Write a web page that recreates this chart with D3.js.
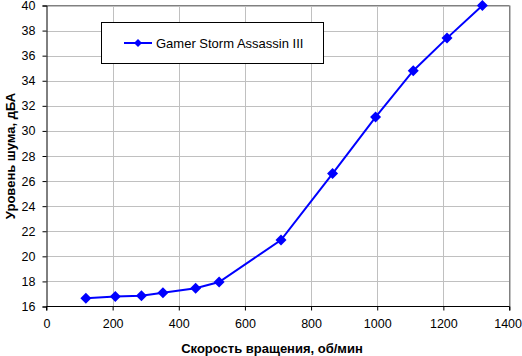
<!DOCTYPE html>
<html><head><meta charset="utf-8">
<script src="https://cdn.jsdelivr.net/npm/d3@7"></script>
<style>
html,body{margin:0;padding:0;background:#fff;}
svg{display:block;font-family:"Liberation Sans",Arial,sans-serif;}
</style></head>
<body>
<svg id="c" width="522" height="356"></svg>
<script>
const seriesName = "Gamer Storm Assassin III";
const rpm = [119, 208, 287, 352, 451, 522, 709, 865, 995, 1109, 1211, 1318];
const noise = [16.65, 16.8, 16.85, 17.1, 17.45, 17.95, 21.3, 26.6, 31.1, 34.8, 37.4, 40.0];
const xTicks = [0, 200, 400, 600, 800, 1000, 1200, 1400];
const yTicks = [16, 18, 20, 22, 24, 26, 28, 30, 32, 34, 36, 38, 40];
const xTitle = "Скорость вращения, об/мин";
const yTitle = "Уровень шума, дБА";

const svg = d3.select("#c");
const x = d3.scaleLinear().domain([0, 1400]).range([46.5, 509.5]);
const y = d3.scaleLinear().domain([16, 40]).range([306.5, 5.5]);
const color = "#0000ff";

// grid
svg.append("g").selectAll("line").data(xTicks.slice(1)).join("line")
  .attr("x1", d => Math.round(x(d)) + 0.5).attr("x2", d => Math.round(x(d)) + 0.5)
  .attr("y1", y(40)).attr("y2", y(16)).attr("stroke", "#c0c0c0").attr("stroke-width", 1);
svg.append("g").selectAll("line").data(yTicks.slice(1)).join("line")
  .attr("y1", d => Math.round(y(d)) + 0.5).attr("y2", d => Math.round(y(d)) + 0.5)
  .attr("x1", x(0)).attr("x2", x(1400)).attr("stroke", "#c0c0c0").attr("stroke-width", 1);
// top/right border
svg.append("path").attr("d", `M${x(0)},${y(40)}H${x(1400)}V${y(16)}`)
  .attr("fill", "none").attr("stroke", "#808080").attr("stroke-width", 1);

// axes
const xAxis = d3.axisBottom(x).tickValues(xTicks).tickSize(4).tickPadding(9).tickFormat(d3.format("d"));
const yAxis = d3.axisLeft(y).tickValues(yTicks).tickSize(4).tickPadding(7).tickFormat(d3.format("d"));
const gx = svg.append("g").attr("transform", `translate(0,${y(16)})`).call(xAxis);
const gy = svg.append("g").attr("transform", `translate(${x(0)},0)`).call(yAxis);
[gx, gy].forEach(g => {
  g.select(".domain").attr("stroke", "#000").attr("stroke-width", 1);
  g.selectAll(".tick line").attr("stroke", "#000");
  g.selectAll(".tick text").attr("font-size", 12.5).attr("fill", "#000")
    .attr("font-family", "'Liberation Sans',Arial,sans-serif");
});
gx.select(".domain").attr("d", `M${x(0)},4V0H${x(1400)}V4`);
// keep the last x label inside the picture
gx.selectAll(".tick").filter(d => d === 1400).select("text")
  .attr("text-anchor", "end").attr("x", 521.5 - x(1400));

// titles
svg.append("text").attr("x", 272).attr("y", 352.5).attr("text-anchor", "middle")
  .attr("font-size", 13).attr("font-weight", "bold").text(xTitle);
svg.append("text").attr("transform", `translate(15,156) rotate(-90)`).attr("text-anchor", "middle")
  .attr("font-size", 13).attr("font-weight", "bold").text(yTitle);

// diamond symbol
const diamond = { draw(ctx, size) { const r = Math.sqrt(size / 2); ctx.moveTo(0, -r); ctx.lineTo(r, 0); ctx.lineTo(0, r); ctx.lineTo(-r, 0); ctx.closePath(); } };

const data = rpm.map((r, i) => ({ r, n: noise[i] }));
svg.append("path").datum(data)
  .attr("d", d3.line().x(d => x(d.r)).y(d => y(d.n)))
  .attr("fill", "none").attr("stroke", color).attr("stroke-width", 2);
svg.append("g").selectAll("path").data(data).join("path")
  .attr("transform", d => `translate(${x(d.r)},${y(d.n)})`)
  .attr("d", d3.symbol(diamond, 2 * 5.5 * 5.5)).attr("fill", color);

// legend
const lg = svg.append("g");
lg.append("rect").attr("x", 101.5).attr("y", 22.5).attr("width", 222).attr("height", 41)
  .attr("fill", "#fff").attr("stroke", "#000").attr("stroke-width", 1);
lg.append("line").attr("x1", 124).attr("x2", 152).attr("y1", 43).attr("y2", 43)
  .attr("stroke", color).attr("stroke-width", 2);
lg.append("path").attr("transform", "translate(138,43)")
  .attr("d", d3.symbol(diamond, 2 * 4 * 4)).attr("fill", color);
lg.append("text").attr("x", 156).attr("y", 47.5).attr("font-size", 13).text(seriesName);
</script>
</body></html>
